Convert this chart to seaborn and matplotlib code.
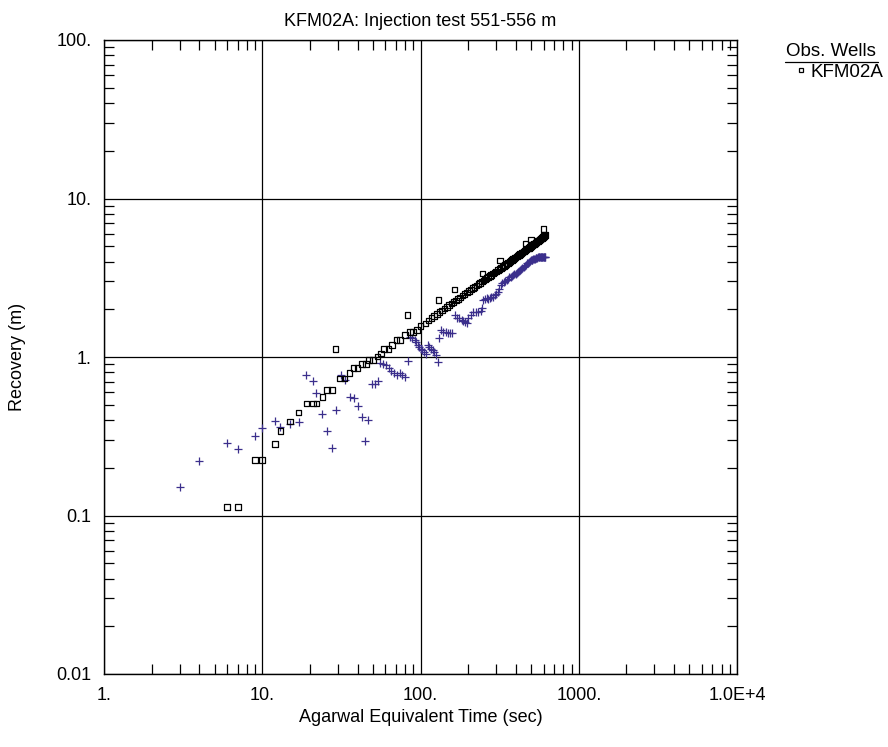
import matplotlib
matplotlib.use('Agg')
import matplotlib.pyplot as plt
import matplotlib.ticker as mticker
from matplotlib.lines import Line2D
import seaborn as sns
import pandas as pd

# Recovery (squares, observation well KFM02A)
rec_time = [6, 7, 9, 10, 12, 13, 15, 17, 19, 21, 22, 24, 25.6, 27.5, 29, 31, 33,
            35.5, 37.7, 40, 42.6, 45.2, 47.4, 50, 53.4, 56.2, 59, 62.7, 66.3, 70.7,
            74.4, 79.6, 83, 86, 90, 94.7, 100, 107.6,
            112, 117, 122, 127, 130, 132, 137, 142, 147, 152, 157, 162, 164, 167, 172,
            178, 184, 190, 196, 202, 208, 214, 220, 226, 232, 238, 244, 246, 250, 256,
            262, 268, 274, 280, 287, 294, 301, 308, 315, 318, 322, 329, 336, 343, 350,
            357, 364, 371, 378, 385, 392, 399, 406, 413, 420, 427, 434, 441, 448, 455,
            460, 462, 469, 476, 483, 490, 497, 500, 504, 510, 516, 522, 528, 534, 540,
            546, 552, 558, 564, 570, 575, 580, 585, 590, 595, 598, 600, 604, 608, 612]
rec_value = [0.113, 0.113, 0.224, 0.224, 0.282, 0.34, 0.393, 0.446, 0.51, 0.51, 0.51,
             0.56, 0.62, 0.62, 1.12, 0.73, 0.73,
             0.79, 0.85, 0.85, 0.90, 0.90, 0.96, 0.96, 1.01, 1.05, 1.12, 1.12, 1.19, 1.28,
             1.28, 1.38, 1.84, 1.44, 1.44, 1.48, 1.57, 1.63,
             1.70, 1.76, 1.81, 1.87, 2.29, 1.92, 1.97, 2.02, 2.07, 2.12, 2.17, 2.22, 2.66,
             2.27, 2.32, 2.38, 2.44, 2.49, 2.55, 2.61, 2.66, 2.72, 2.77, 2.82, 2.88, 2.93,
             2.99, 3.37, 3.04, 3.09, 3.14, 3.19, 3.24, 3.30, 3.36, 3.41, 3.47, 3.53, 3.59,
             4.05, 3.65, 3.70, 3.76, 3.81, 3.87, 3.93, 3.98, 4.04, 4.09, 4.15, 4.20, 4.25,
             4.31, 4.36, 4.41, 4.47, 4.52, 4.57, 4.62, 4.68, 5.20, 4.73, 4.78, 4.83, 4.88,
             4.93, 4.98, 5.50, 5.03, 5.08, 5.12, 5.16, 5.21, 5.25, 5.30, 5.34, 5.38, 5.43,
             5.47, 5.52, 5.56, 5.60, 5.64, 5.68, 5.72, 6.40, 5.76, 5.80, 5.84, 5.88]

# Derivative (plus markers)
der_time = [3, 4, 6, 7, 9, 10, 12, 13, 15, 17, 19, 21, 22, 24, 25.6, 27.5, 29.3, 31.3,
            33.3, 35.9, 38, 40, 42.9, 44.9, 46.6, 49.4, 51.4, 54.2, 55.4, 57.7, 60.6,
            62.8, 65.1, 67.6, 70.9, 73.7, 76.6, 80.3, 83.5, 86, 88.9, 91.9, 93.8, 96.6,
            98.5, 100.4, 102.4, 104.8, 107.6, 110.9, 113.5, 116.8, 119.7, 121.9, 124.9,
            128.5, 131, 134.8, 139.3, 144.4, 148.8, 153.8, 159, 165.5, 169.5, 176, 182.4,
            186.7, 191.4, 196.2, 200.8, 208.9, 215.9, 223.8, 232.3, 241.6, 246, 250, 256,
            262, 268, 274, 280, 287, 294, 301, 308, 315, 322, 329, 336, 343, 350, 357,
            364, 371, 378, 385, 392, 399, 406, 413, 420, 427, 434, 441, 448, 455, 462,
            469, 476, 483, 490, 497, 504, 510, 516, 522, 528, 534, 540, 546, 552, 558,
            564, 570, 575, 580, 585, 590, 595, 600, 604, 608, 612]
der_value = [0.151, 0.22, 0.287, 0.263, 0.318, 0.356, 0.395, 0.363, 0.378, 0.391, 0.767,
             0.71, 0.59, 0.44, 0.343, 0.266, 0.46, 0.77, 0.72, 0.56, 0.55, 0.49, 0.42,
             0.295, 0.40, 0.675, 0.675, 0.71, 0.92, 0.90, 0.89, 0.85, 0.82, 0.79, 0.77,
             0.79, 0.77, 0.75, 0.94, 1.34, 1.31, 1.28, 1.24, 1.19, 1.16, 1.13, 1.11, 1.08,
             1.05, 1.19, 1.16, 1.13, 1.11, 1.08, 1.03, 0.935, 1.31, 1.48, 1.44, 1.43, 1.41,
             1.41, 1.42, 1.84, 1.75, 1.75, 1.71, 1.69, 1.67, 1.63, 1.75, 1.84, 1.91, 1.93,
             1.91, 1.95, 2.03, 2.29, 2.31, 2.34, 2.33, 2.36, 2.38, 2.40, 2.45, 2.50, 2.56,
             2.70, 2.84, 2.95, 2.99, 3.02, 3.06, 3.12, 3.18, 3.22, 3.25, 3.28, 3.32, 3.35,
             3.38, 3.44, 3.50, 3.55, 3.60, 3.66, 3.71, 3.77, 3.83, 3.89, 3.94, 3.99, 4.04,
             4.07, 4.10, 4.12, 4.14, 4.16, 4.18, 4.20, 4.22, 4.23, 4.25, 4.26, 4.27, 4.28,
             4.28, 4.29, 4.29, 4.28, 4.28, 4.27, 4.27, 4.26, 4.26]

x_ticks = [1, 10, 100, 1000, 10000]
x_tick_labels = ['1.', '10.', '100.', '1000.', '1.0E+4']
y_ticks = [0.01, 0.1, 1, 10, 100]
y_tick_labels = ['0.01', '0.1', '1.', '10.', '100.']

rec = pd.DataFrame({'time': rec_time, 'value': rec_value})
der = pd.DataFrame({'time': der_time, 'value': der_value})

sns.set_style("white")
plt.rcParams['font.family'] = ['Liberation Sans', 'DejaVu Sans']
plt.rcParams['text.color'] = 'black'
plt.rcParams['axes.labelcolor'] = 'black'

fs = 13

fig = plt.figure(figsize=(8.88, 7.47), dpi=100)
ax = fig.add_axes([104 / 888, 1 - 674 / 747, 633 / 888, 634 / 747])

der_color = '#3b2f8c'
sns.scatterplot(data=der, x='time', y='value', marker='+', color=der_color,
                s=30, linewidth=0.9, ax=ax, legend=False)
sns.scatterplot(data=rec, x='time', y='value', marker='s', s=16,
                facecolors='none', edgecolor='black', linewidth=0.9, ax=ax, legend=False)

ax.set_xscale('log')
ax.set_yscale('log')
ax.set_xlim(1, 10000)
ax.set_ylim(0.01, 100)

ax.xaxis.set_major_locator(mticker.FixedLocator(x_ticks))
ax.xaxis.set_major_formatter(mticker.FixedFormatter(x_tick_labels))
ax.yaxis.set_major_locator(mticker.FixedLocator(y_ticks))
ax.yaxis.set_major_formatter(mticker.FixedFormatter(y_tick_labels))
ax.xaxis.set_minor_locator(mticker.LogLocator(base=10, subs=range(2, 10), numticks=20))
ax.yaxis.set_minor_locator(mticker.LogLocator(base=10, subs=range(2, 10), numticks=20))
ax.xaxis.set_minor_formatter(mticker.NullFormatter())
ax.yaxis.set_minor_formatter(mticker.NullFormatter())

ax.tick_params(which='both', direction='in', top=True, right=True, bottom=True,
               left=True, color='black', labelsize=13, labelcolor='black')
ax.tick_params(which='major', length=0, pad=9)
ax.tick_params(which='minor', length=7, width=0.9)

ax.grid(True, which='major', color='black', linewidth=0.9)
for sp in ax.spines.values():
    sp.set_color('black')
    sp.set_linewidth(1.0)

ax.set_xlabel('Agarwal Equivalent Time (sec)', fontsize=fs, va='center')
ax.set_ylabel('Recovery (m)', fontsize=fs, va='center')
ax.xaxis.set_label_coords(0.5, -(718 - 674) / 634)
ax.yaxis.set_label_coords((18 - 104) / 633, 0.5)
fig.text(420.5 / 888, 1 - 22 / 747, 'KFM02A: Injection test 551-556 m', fontsize=fs,
         ha='center', va='center')

# legend block to the right of the plot
fig.text(786 / 888, 1 - 52 / 747, 'Obs. Wells', fontsize=13.5, va='center', ha='left')
fig.add_artist(Line2D([785 / 888, 878 / 888], [1 - 62 / 747, 1 - 62 / 747],
                      color='black', linewidth=0.9, transform=fig.transFigure))
handle = Line2D([], [], marker='s', markersize=3.5, markerfacecolor='none',
                markeredgecolor='black', linestyle='none', markeredgewidth=0.9)
fig.legend([handle], ['KFM02A'], loc='center left', frameon=False, fontsize=13.5,
           bbox_to_anchor=(792 / 888, 1 - 72 / 747), handletextpad=0.0,
           handlelength=1.0, borderaxespad=0, borderpad=0)

fig.savefig('out.png', dpi=100)
